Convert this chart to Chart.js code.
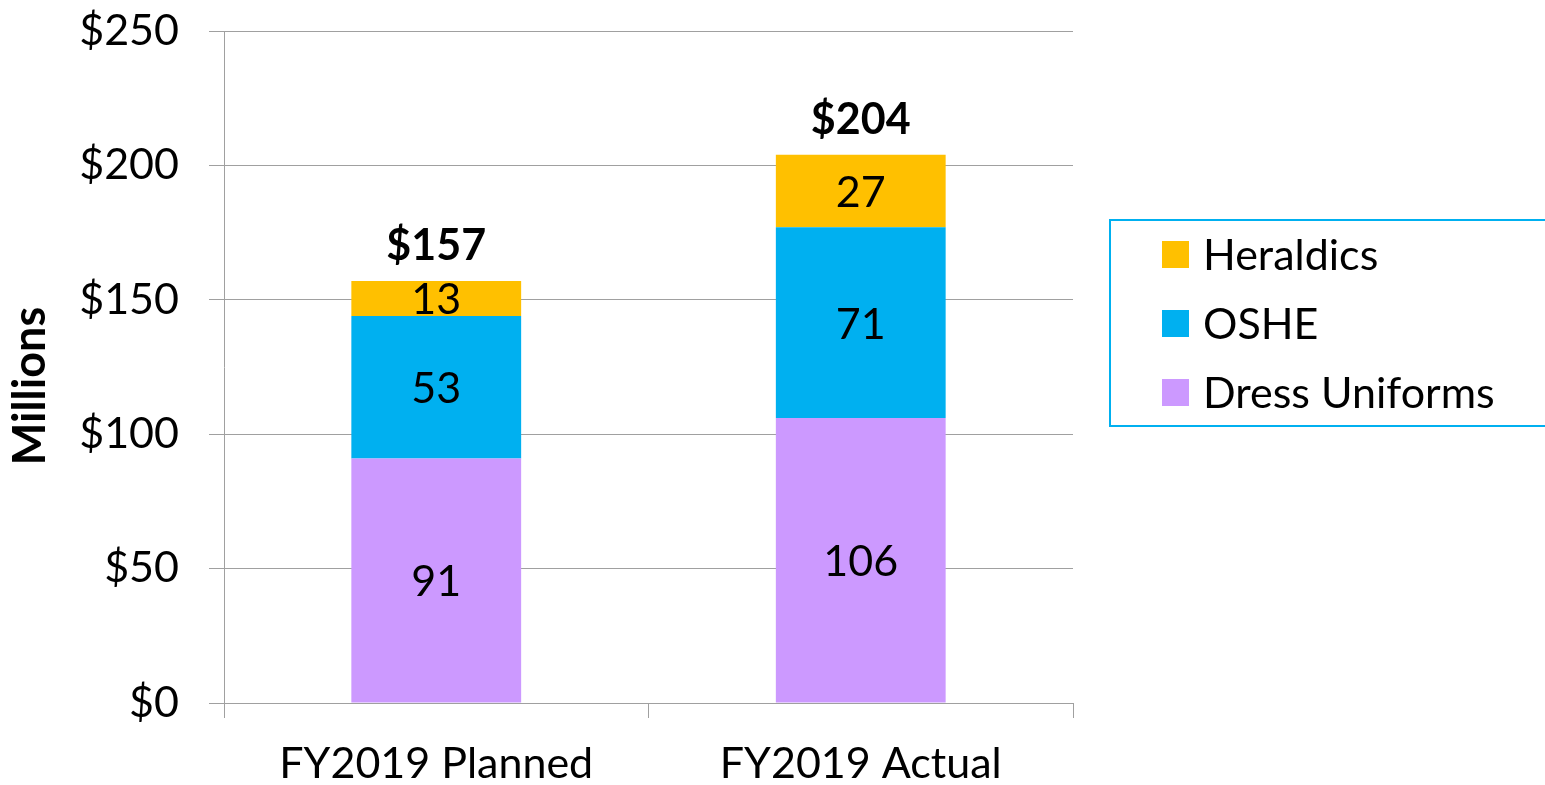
<!DOCTYPE html>
<html>
<head>
<meta charset="utf-8">
<title>FY2019 Planned vs Actual</title>
<script src="https://cdn.jsdelivr.net/npm/chart.js@4"></script>
<style>
  html, body { margin: 0; padding: 0; background: #fff; }
  #wrap { width: 1545px; height: 785px; }
</style>
</head>
<body>
<div id="wrap"><canvas id="chart" width="1545" height="785"></canvas></div>
<script>
// Chart data
const categories = ['FY2019 Planned', 'FY2019 Actual'];
const dressUniforms = [91, 106];
const oshe = [53, 71];
const heraldics = [13, 27];
const totals = [157, 204];
const yTicks = [0, 50, 100, 150, 200, 250];
const yTitle = 'Millions';

const FONT = 'Lato, "Open Sans", sans-serif';

// Value labels inside segments + bold totals above each stack
const labelPlugin = {
  id: 'valueLabels',
  afterDatasetsDraw(chart) {
    const ctx = chart.ctx;
    ctx.save();
    ctx.textAlign = 'center';
    ctx.textBaseline = 'middle';
    ctx.fillStyle = '#000';
    ctx.font = '43px ' + FONT;
    chart.data.datasets.forEach((ds, i) => {
      const meta = chart.getDatasetMeta(i);
      meta.data.forEach((bar, j) => {
        ctx.fillText(ds.data[j], bar.x, (bar.y + bar.base) / 2 + 2);
      });
    });
    const topMeta = chart.getDatasetMeta(chart.data.datasets.length - 1);
    ctx.font = 'bold 43px ' + FONT;
    topMeta.data.forEach((bar, j) => {
      ctx.fillText('$' + totals[j], bar.x, bar.y - 35);
    });
    ctx.restore();
  }
};

// Boxed legend on the right (reverse stack order) + rotated y title
const legendPlugin = {
  id: 'boxLegend',
  afterDraw(chart) {
    const ctx = chart.ctx;
    ctx.save();
    ctx.strokeStyle = '#00B0F0';
    ctx.lineWidth = 2;
    ctx.strokeRect(1110, 220, 460, 206);
    const items = chart.data.datasets.slice().reverse();
    ctx.font = '43px ' + FONT;
    ctx.textAlign = 'left';
    ctx.textBaseline = 'middle';
    items.forEach((ds, i) => {
      const cy = 254 + i * 69;
      ctx.fillStyle = ds.backgroundColor;
      ctx.fillRect(1162, cy - 13, 27, 27);
      ctx.fillStyle = '#000';
      ctx.fillText(ds.label, 1203, cy + 2);
    });

    // y axis title, sits a bit lower than the plot centre
    ctx.translate(30, 386);
    ctx.rotate(-Math.PI / 2);
    ctx.textAlign = 'center';
    ctx.font = 'bold 45px ' + FONT;
    ctx.fillText(yTitle, 0, 0);
    ctx.restore();
  }
};

new Chart(document.getElementById('chart'), {
  type: 'bar',
  data: {
    labels: categories,
    datasets: [
      { label: 'Dress Uniforms', data: dressUniforms, backgroundColor: '#CC99FF' },
      { label: 'OSHE', data: oshe, backgroundColor: '#00B0F0' },
      { label: 'Heraldics', data: heraldics, backgroundColor: '#FFC000' }
    ]
  },
  options: {
    responsive: false,
    animation: false,
    layout: { padding: { top: 31, right: 472, left: 0, bottom: 0 } },
    datasets: {
      bar: { categoryPercentage: 1, barPercentage: 0.4 }
    },
    scales: {
      x: {
        stacked: true,
        afterFit: s => { s.height = 82; },
        grid: { drawOnChartArea: false, drawTicks: true, tickLength: 15, color: '#a0a0a0' },
        border: { display: true, color: '#a0a0a0' },
        ticks: { color: '#000', padding: 20, font: { family: FONT, size: 43 } }
      },
      y: {
        stacked: true,
        min: 0,
        max: 250,
        afterFit: s => {
          s.width = 224;
          s.paddingTop = 0;
          s.paddingBottom = 0;
        },
        afterBuildTicks: s => { s.ticks = yTicks.map(v => ({ value: v })); },
        grid: { color: '#a0a0a0', tickLength: 15 },
        border: { display: true, color: '#a0a0a0' },
        ticks: {
          color: '#000',
          padding: 30,
          font: { family: FONT, size: 43 },
          callback: v => '$' + v
        },
        title: { display: false }
      }
    },
    plugins: {
      legend: { display: false },
      tooltip: { enabled: false }
    }
  },
  plugins: [labelPlugin, legendPlugin]
});
</script>
</body>
</html>
